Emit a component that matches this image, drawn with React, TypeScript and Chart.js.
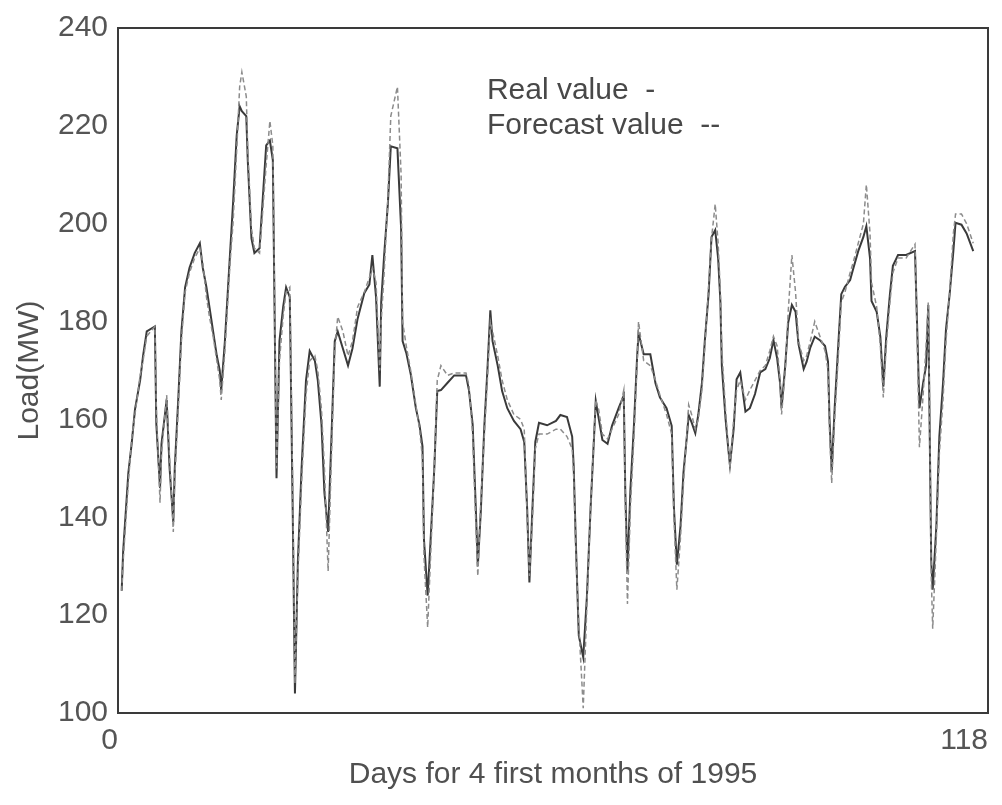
import React, { useEffect, useRef } from "react";
import { Chart, registerables } from "chart.js";

Chart.register(...registerables);

// Day positions (x)
const days: number[] = [
  0.5, 0.7, 1.4, 1.85, 2.3, 3.0, 3.4, 3.9, 5.0, 5.2, 5.7, 5.9, 6.6, 7.0, 7.5, 7.7, 8.2, 8.6, 9.1, 9.7,
  10.4, 11.1, 11.5, 12.0, 12.4, 12.9, 13.4, 13.8, 14.0, 14.5, 15.2, 15.6, 16.1, 16.5, 16.8, 17.4, 17.6, 18.1, 18.5, 19.2,
  20.1, 20.6, 21.0, 21.5, 21.9, 22.4, 22.8, 23.3, 23.7, 24.0, 24.4, 24.9, 25.5, 26.0, 26.7, 27.1, 27.6, 28.0, 28.5, 28.9,
  29.4, 29.8, 30.5, 31.2, 31.8, 32.5, 33.4, 34.1, 34.5, 35.0, 35.5, 35.7, 36.1, 36.6, 37.0, 37.9, 38.4, 38.6, 39.1, 39.7,
  40.4, 40.9, 41.3, 41.5, 42.0, 42.4, 42.9, 43.3, 43.8, 44.7, 45.6, 47.2, 47.6, 48.1, 48.5, 48.8, 49.2, 49.7, 50.1, 50.5,
  50.8, 51.5, 52.1, 52.8, 53.7, 54.6, 55.1, 55.5, 55.8, 56.2, 56.6, 57.1, 58.2, 59.4, 60.0, 60.9, 61.6, 61.8, 62.1, 62.5,
  63.1, 63.6, 64.1, 64.5, 64.8, 65.2, 65.7, 66.4, 67.0, 67.9, 68.6, 68.8, 69.1, 69.5, 70.0, 70.4, 70.6, 71.3, 72.2, 72.9,
  73.5, 74.4, 75.1, 75.4, 75.8, 76.3, 76.7, 77.2, 77.4, 77.8, 78.3, 78.7, 79.2, 79.6, 80.1, 80.5, 81.0, 81.4, 81.7, 81.9,
  82.4, 82.8, 83.0, 83.5, 83.9, 84.4, 85.1, 85.7, 86.4, 87.1, 87.8, 88.4, 88.9, 89.4, 89.8, 90.0, 90.5, 90.9, 91.4, 91.9,
  92.3, 93.0, 93.4, 93.9, 94.5, 95.2, 95.9, 96.3, 96.5, 96.8, 97.2, 97.7, 98.1, 98.6, 99.3, 99.7, 100.4, 101.1, 101.5, 102.0,
  102.2, 102.9, 103.4, 103.8, 104.2, 104.7, 105.1, 105.8, 106.9, 108.1, 108.4, 108.7, 109.2, 109.6, 109.9, 110.1, 110.3, 110.5, 111.0, 111.4,
  111.9, 112.3, 112.8, 113.3, 113.6, 114.4, 115.1, 116.0,
];

// Real load (MW)
const realValues: number[] = [
  125, 133, 149, 155, 162, 168, 173, 178, 179, 159, 146, 155, 164, 150, 139, 150, 165, 178, 187, 191,
  194, 196, 191, 187, 183, 178, 173, 170, 166, 176, 194, 204, 218, 224, 223, 222, 213, 197, 194, 195,
  216, 217, 213, 148, 176, 183, 187, 185, 141, 104, 131, 150, 168, 174, 172, 168, 159, 145, 137, 154,
  176, 178, 174.5, 171, 174.5, 180.6, 185.8, 187.6, 193.6, 185, 166.7, 184, 193.6, 204, 215.8, 215.4, 199, 176, 173.6, 169.3,
  162.3, 158.8, 154.5, 135.4, 124, 135.4, 150, 165.8, 166, 167.5, 169, 169, 166, 159, 143, 130, 141, 159, 170, 182.3,
  176, 171, 165.8, 162.3, 159.7, 158, 155.4, 141.5, 126.7, 141.5, 155.4, 159.3, 158.8, 159.7, 160.9, 160.5, 156.5, 150.7, 134.7, 115.8,
  111.4, 123.8, 142, 154.3, 163.8, 160.2, 155.8, 155, 158.7, 162.3, 164.9, 145.6, 128.9, 145.6, 159.4, 172.5, 177.6, 173.3, 173.3, 167.4,
  164.5, 162.3, 158.7, 142, 130.3, 138.3, 149.2, 157.2, 160.9, 159.4, 157.2, 160.9, 167.4, 176.2, 185.6, 197.3, 198.7, 192.9, 184.2, 171,
  160.2, 153.6, 150.7, 158, 168.2, 169.6, 161.6, 162.3, 165.2, 169.6, 170.3, 172.5, 176.2, 172.5, 167.4, 162.3, 171, 179.8, 183.4, 182,
  175.4, 170.3, 171.8, 174.7, 176.9, 176.2, 175, 171.8, 160.2, 149.2, 162.3, 175.4, 185.6, 187.1, 188.5, 190.7, 194.4, 197.3, 199.5, 192.9,
  184.2, 182, 176.9, 166.7, 176.9, 185.6, 191.4, 193.6, 193.6, 194.4, 178.4, 162.3, 167.4, 171, 183.4, 156.5, 131, 125.2, 138.3, 156.5,
  167.4, 178.4, 185.6, 194.4, 200.2, 199.8, 198, 194.4,
];

// Forecast load (MW)
const forecastValues: number[] = [
  125, 131, 147, 156, 161, 169, 172, 177, 179, 162, 143, 153, 165, 152, 137, 148, 163, 176, 186, 190,
  193, 195, 192, 185, 181, 177, 172, 168, 164, 174, 192, 200, 215, 228, 231, 226, 215, 199, 195, 194,
  212, 221, 216, 150, 172, 181, 186, 187, 146, 106, 128, 147, 165, 172, 173, 170, 162, 150, 129, 150,
  174, 181, 178, 173, 176, 183, 186, 189, 191, 188, 170, 180, 190, 205, 222, 228, 210, 180, 175, 170,
  163, 158, 152, 132, 117.5, 132, 150, 168, 171, 169, 169.5, 169.5, 167, 157, 140, 128, 143, 157, 168, 180,
  178, 173, 168, 164, 161, 160, 158, 140, 128, 139, 154, 157, 157, 158, 158, 156.5, 154, 149, 133, 118,
  101, 122, 142, 155, 164, 162, 157, 156, 158, 161, 166, 143, 122.3, 142, 157, 171, 180, 172, 171, 168,
  165, 161, 157, 140, 125.2, 136, 147, 158, 163, 161, 158, 160, 166, 175, 187, 197, 204, 196, 186, 174,
  162, 154, 150, 160, 166, 168, 164, 166, 168, 170, 171, 174, 177, 175, 168, 161, 170, 182, 193.6, 186,
  176, 172, 173, 176, 180, 177, 174, 170, 158, 147, 160, 173, 184, 186, 190, 192, 196, 200, 208, 198,
  188, 183, 175, 164.5, 175, 184, 190, 193, 193, 195.8, 176, 154.3, 165, 175, 184, 160, 128, 117.2, 136, 153,
  164, 176, 186, 198, 202, 202, 200, 196,
];

const xTickValues: number[] = [0, 118];
const yTickMin = 100;
const yTickMax = 240;
const yTickStep = 20;

const legendLabels: string[] = ["Real value  -", "Forecast value  --"];
const xTitle = "Days for 4 first months of 1995";
const yTitle = "Load(MW)";

const FONT = "'Liberation Sans', Arial, Helvetica, sans-serif";

export default function App() {
  const canvasRef = useRef<HTMLCanvasElement | null>(null);

  useEffect(() => {
    if (!canvasRef.current) return;
    Chart.defaults.font.family = FONT;

    const framePlugin = {
      id: "frameAndLegend",
      afterDraw(chart: any) {
        const { ctx, chartArea } = chart;
        ctx.save();
        ctx.strokeStyle = "#3a3a3a";
        ctx.lineWidth = 2;
        ctx.strokeRect(
          chartArea.left,
          chartArea.top,
          chartArea.right - chartArea.left,
          chartArea.bottom - chartArea.top
        );
        ctx.fillStyle = "#484848";
        ctx.font = `30px ${FONT}`;
        ctx.textBaseline = "alphabetic";
        ctx.textAlign = "left";
        const lx = chartArea.left + (chartArea.right - chartArea.left) * 0.424;
        legendLabels.forEach((t, i) => {
          ctx.fillText(t, lx, chartArea.top + 71 + i * 35);
        });
        ctx.restore();
      },
    };

    const chart = new Chart(canvasRef.current, {
      type: "line",
      data: {
        datasets: [
          {
            label: "Forecast value",
            data: days.map((d, i) => ({ x: d, y: forecastValues[i] })),
            borderColor: "#8c8c8c",
            borderWidth: 1.5,
            borderDash: [5, 3],
            pointRadius: 0,
            tension: 0,
            fill: false,
          },
          {
            label: "Real value",
            data: days.map((d, i) => ({ x: d, y: realValues[i] })),
            borderColor: "#3a3a3a",
            borderWidth: 2,
            pointRadius: 0,
            tension: 0,
            fill: false,
          },
        ],
      },
      options: {
        animation: false,
        responsive: true,
        maintainAspectRatio: false,
        layout: { padding: { top: 26, right: 14, bottom: 0, left: 0 } },
        plugins: {
          legend: { display: false },
          tooltip: { enabled: false },
        },
        scales: {
          x: {
            type: "linear",
            min: 0,
            max: 118,
            afterBuildTicks: (scale: any) => {
              scale.ticks = xTickValues.map((v) => ({ value: v }));
            },
            afterFit: (scale: any) => {
              scale.height = 92;
            },
            ticks: {
              autoSkip: false,
              maxRotation: 0,
              align: "end",
              padding: 10,
              color: "#555555",
              font: { size: 30 },
              callback: (v: any) => String(v),
            },
            grid: { display: false, drawTicks: false },
            border: { display: false },
            title: {
              display: true,
              text: xTitle,
              color: "#505050",
              font: { size: 30 },
              padding: { top: 0, bottom: 12 },
            },
          },
          y: {
            min: yTickMin,
            max: yTickMax,
            afterFit: (scale: any) => {
              scale.width = 118;
            },
            ticks: {
              stepSize: yTickStep,
              padding: 10,
              color: "#555555",
              font: { size: 30 },
            },
            grid: { display: false, drawTicks: false },
            border: { display: false },
            title: {
              display: true,
              text: yTitle,
              color: "#505050",
              font: { size: 30 },
              padding: { top: 12, bottom: 0 },
            },
          },
        },
      },
      plugins: [framePlugin],
    });

    return () => chart.destroy();
  }, []);

  return (
    <div
      style={{
        position: "fixed",
        left: 0,
        top: 0,
        width: 1002,
        height: 805,
        background: "#ffffff",
      }}
    >
      <canvas ref={canvasRef} />
    </div>
  );
}
